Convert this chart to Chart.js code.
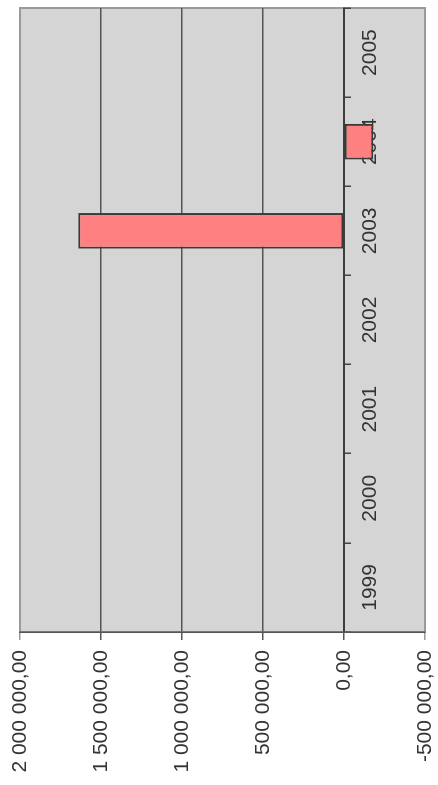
<!DOCTYPE html>
<html>
<head>
<meta charset="utf-8">
<script src="https://cdn.jsdelivr.net/npm/chart.js@4.4.1/dist/chart.umd.min.js"></script>
<style>
  html, body { margin: 0; padding: 0; background: #fff; overflow: hidden; width: 438px; height: 785px; }
  /* the original is an Excel column chart turned a quarter turn */
  #wrap { position: absolute; left: 0; top: 785px; width: 785px; height: 438px; transform-origin: 0 0; transform: rotate(-90deg); }
</style>
</head>
<body>
<div id="wrap"><canvas id="chart" width="785" height="438"></canvas></div>
<script>
// years and values of the only series
const years = ['1999', '2000', '2001', '2002', '2003', '2004', '2005'];
const amounts = [null, null, null, null, 1640000, -180000, null];

// value axis ticks
const valueMin = -500000;
const valueMax = 2000000;
const valueStep = 500000;

const fontFamily = '"Liberation Sans", Arial, sans-serif';

// 2 000 000,00 style
const formatAmount = (v) => {
    const neg = v < 0;
    const parts = Math.abs(v).toFixed(2).split('.');
    const intPart = parts[0].replace(/\B(?=(\d{3})+(?!\d))/g, ' ');
    return (neg ? '-' : '') + intPart + ',' + parts[1];
};

// grey plot area with a thin frame
const plotBg = {
    id: 'plotBg',
    beforeDraw(chart) {
        const { ctx, chartArea: a } = chart;
        ctx.save();
        ctx.fillStyle = '#d5d5d5';
        ctx.fillRect(a.left, a.top, a.width, a.height);
        ctx.strokeStyle = '#9a9a9a';
        ctx.lineWidth = 2;
        ctx.strokeRect(a.left, a.top, a.width, a.height);
        ctx.restore();
    }
};

new Chart(document.getElementById('chart'), {
    type: 'bar',
    data: {
        labels: years,
        datasets: [{
            data: amounts,
            backgroundColor: '#ff8080',
            borderColor: '#3a3a3a',
            borderWidth: 2,
            borderSkipped: false,
            barPercentage: 0.4,
            categoryPercentage: 1
        }]
    },
    options: {
        responsive: false,
        animation: false,
        devicePixelRatio: 1,
        layout: { padding: { top: 20, right: 8, bottom: 13, left: 0 } },
        plugins: {
            legend: { display: false },
            tooltip: { enabled: false }
        },
        scales: {
            x: {
                type: 'category',
                position: { y: 0 },
                offset: true,
                z: 1,
                grid: { offset: true, drawOnChartArea: false, tickLength: 6, color: '#444', lineWidth: 1.5 },
                border: { color: '#3c3c3c', width: 2 },
                ticks: {
                    color: '#333',
                    font: { family: fontFamily, size: 21 },
                    padding: 8,
                    maxRotation: 0,
                    autoSkip: false
                }
            },
            y: {
                min: valueMin,
                max: valueMax,
                ticks: {
                    stepSize: valueStep,
                    callback: formatAmount,
                    color: '#333',
                    font: { family: fontFamily, size: 21 },
                    padding: 10
                },
                grid: {
                    color: (c) => (c.tick && (c.tick.value === valueMax || c.tick.value === valueMin)) ? '#9a9a9a' : '#555',
                    lineWidth: 1.5,
                    tickLength: 8
                },
                border: { color: '#555', width: 1.5 },
                afterFit: (s) => {
                    s.width = 153;
                    // labels may hang over the plot ends, like in Excel
                    s.paddingTop = 0;
                    s.paddingBottom = 0;
                }
            }
        }
    },
    plugins: [plotBg]
});
</script>
</body>
</html>
